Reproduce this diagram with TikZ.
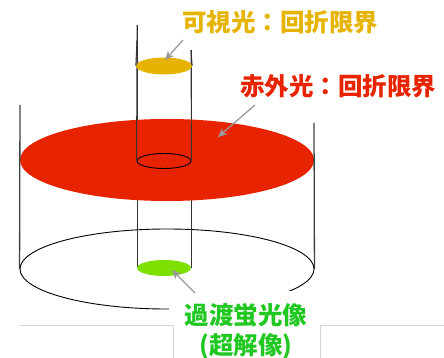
\documentclass[tikz,border=0pt]{standalone}
\usepackage{fontspec}
\newfontfamily\jpfont{Noto Sans CJK JP}
\usetikzlibrary{arrows.meta,shapes.geometric}
\definecolor{visgold}{HTML}{E6B400}
\definecolor{irred}{HTML}{E82300}
\definecolor{glowgreen}{HTML}{7EE000}
\definecolor{fluorgreen}{HTML}{22C822}
\definecolor{rulegray}{HTML}{D4D4D4}
\definecolor{pointergray}{HTML}{9A9A9A}

\begin{document}
\begin{tikzpicture}[x=1pt,y=-1pt, line join=round,
        every node/.append style={inner sep=0pt}]
      \tikzstyle{wall} = [draw=black!75, line width=1.3pt]
      \tikzstyle{tube} = [draw=black!80, line width=0.9pt]
      \tikzstyle{disk} = [ellipse, inner sep=0pt]
      \tikzstyle{caption} = [font=\jpfont\bfseries\fontsize{24.5}{30}\selectfont]
      \tikzstyle{pointer} = [draw=pointergray, line width=1.3pt,
        -{Stealth[length=9pt,width=8pt,inset=2.5pt]}]
      \useasboundingbox (0,0) rectangle (444,358);
      % base of the outer cylinder
      \node (base) [disk, draw=black, line width=0.9pt,
        minimum width=294pt, minimum height=80pt] at (167,269) {};
      \draw[tube] (137,25) -- (137,268);
      \draw[tube] (191,50) -- (191,268);
      % infrared plane with the hole of the inner tube
      \node (infrared) [disk, fill=irred,
        minimum width=294pt, minimum height=82pt] at (167,160) {};
      \node (hole) [disk, draw=black, line width=0.9pt,
        minimum width=54pt, minimum height=15pt] at (164,161) {};
      \draw[tube] (137,25) -- (hole.west);
      \draw[tube] (191,50) -- (hole.east);
      \draw[wall] (20,105) -- (base.west);
      \draw[wall] (314,123) -- (base.east);
      % spots
      \node (visible) [disk, fill=visgold,
        minimum width=56pt, minimum height=17pt] at (164,66) {};
      \draw[tube] (137,40) -- (visible.west);
      \draw[tube] (191,50) -- (visible.east);
      \node (glow) [disk, fill=glowgreen,
        minimum width=54pt, minimum height=16pt] at (164,268) {};
      % labels
      \node (vislabel) [caption, text=visgold] at (280,22) {可視光：回折限界};
      \node (irlabel) [caption, text=irred] at (338,86) {赤外光：回折限界};
      \node (fluorlabel) [caption, text=fluorgreen, fill=white, align=center,
        inner xsep=16pt, inner ysep=12pt] at (246,331) {過渡蛍光像\\(超解像)};
      \draw[rulegray, line width=1pt] (19,325) -- (173,325) -- (173,358);
      \draw[rulegray, line width=1pt] (444,325) -- (320,325) -- (320,358);
      \coordinate (visTail) at (183,40);
      \coordinate (visTip) at (165,60);
      \coordinate (irTail) at (255,105);
      \coordinate (irTip) at (218,137);
      \coordinate (fluorTail) at (195,293);
      \coordinate (fluorTip) at (172,270);
      \draw[pointer] (visTail) -- (visTip);
      \draw[pointer] (irTail) -- (irTip);
      \draw[pointer] (fluorTail) -- (fluorTip);
    \end{tikzpicture}
\end{document}
